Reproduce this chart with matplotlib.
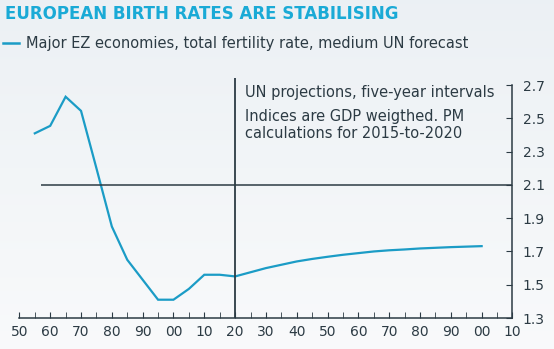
"""
European birth rates chart: total fertility rate, medium UN forecast.
"""

import numpy as np
import matplotlib.pyplot as plt

# data
years = list(range(1955, 2101, 5))
fertility = [
    2.41, 2.455, 2.63, 2.545, 2.20, 1.85, 1.65, 1.53, 1.41, 1.41,
    1.475, 1.56, 1.56, 1.55, 1.575, 1.60, 1.62, 1.64, 1.655, 1.668,
    1.68, 1.69, 1.70, 1.707, 1.712, 1.718, 1.722, 1.726, 1.729, 1.732,
]
x_ticks = list(range(1950, 2111, 10))
x_labels = [f"{y % 100:02d}" for y in x_ticks]
y_ticks = [1.3, 1.5, 1.7, 1.9, 2.1, 2.3, 2.5, 2.7]

TITLE_BLUE = '#1aaad6'
LINE_BLUE = '#1b9cc6'
DARK = '#2c3b44'
FONT = 'DejaVu Sans'


def main():
    plt.rcParams['font.family'] = [FONT]

    fig = plt.figure(figsize=(5.54, 3.49), dpi=100)

    # soft background gradient
    bg = fig.add_axes([0, 0, 1, 1], zorder=-10)
    grad = np.linspace(0, 1, 256).reshape(-1, 1)
    top = np.array([0.925, 0.943, 0.957])
    bottom = np.array([0.975, 0.980, 0.985])
    img = top + (bottom - top) * grad[:, :, None]
    bg.imshow(img, aspect='auto', extent=[0, 1, 0, 1])
    bg.axis('off')

    ax = fig.add_axes([0.035, 0.0888, 0.89, 0.696])
    ax.patch.set_alpha(0)

    ax.plot(years, fertility, color=LINE_BLUE, lw=1.6, solid_joinstyle='miter')

    # reference lines
    ax.hlines(2.1, 1957, 2110, color=DARK, lw=1.1)
    ax.vlines(2020, 1.3, 2.74, color=DARK, lw=1.3)

    note_x = 2023.3
    ax.text(note_x, 2.626, "UN projections, five-year intervals",
            fontsize=10.5, color=DARK, va='baseline')
    ax.text(note_x, 2.485, "Indices are GDP weigthed. PM",
            fontsize=10.5, color=DARK, va='baseline')
    ax.text(note_x, 2.381, "calculations for 2015-to-2020",
            fontsize=10.5, color=DARK, va='baseline')

    ax.set_xlim(1950, 2110)
    ax.set_ylim(1.3, 2.76)

    for side in ('left', 'top'):
        ax.spines[side].set_visible(False)
    ax.spines['bottom'].set_color(DARK)
    ax.spines['right'].set_color(DARK)
    ax.spines['right'].set_bounds(1.3, 2.7)
    ax.spines['bottom'].set_linewidth(1.1)
    ax.spines['right'].set_linewidth(1.1)

    ax.set_xticks(x_ticks)
    ax.set_xticklabels(x_labels)
    ax.set_xticks(list(range(1955, 2110, 10)), minor=True)
    ax.tick_params(axis='x', which='both', direction='in', length=4,
                   color=DARK, labelcolor=DARK, labelsize=10, pad=5)

    ax.yaxis.tick_right()
    ax.set_yticks(y_ticks)
    ax.set_yticklabels([f"{v:.1f}" for v in y_ticks])
    ax.tick_params(axis='y', direction='in', length=4, color=DARK,
                   labelcolor=DARK, labelsize=10, pad=7.5)

    # title and legend line
    fig.text(5 / 554, 1 - 19.3 / 349, "EUROPEAN BIRTH RATES ARE STABILISING",
             fontsize=12, fontweight='bold', color=TITLE_BLUE, va='baseline')
    fig.add_artist(plt.Line2D([3.3 / 554, 19.3 / 554],
                              [1 - 43 / 349, 1 - 43 / 349],
                              color=LINE_BLUE, lw=1.8))
    fig.text(26 / 554, 1 - 48.3 / 349,
             "Major EZ economies, total fertility rate, medium UN forecast",
             fontsize=10.5, color=DARK, va='baseline')

    fig.savefig('out.png', dpi=100)


if __name__ == "__main__":
    main()
